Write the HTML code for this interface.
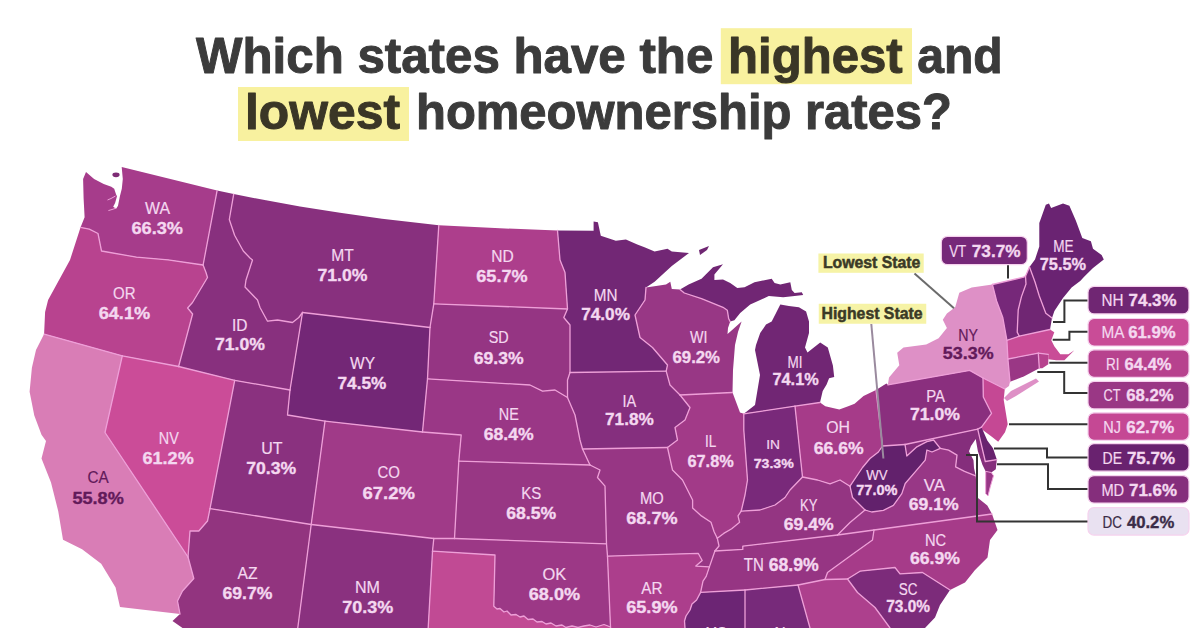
<!DOCTYPE html><html><head><meta charset="utf-8"><style>html,body{margin:0;padding:0;background:#fff;width:1200px;height:628px;overflow:hidden;}svg{display:block;font-family:"Liberation Sans",sans-serif;}</style></head><body>
<svg width="1200" height="628" viewBox="0 0 1200 628">
<rect width="1200" height="628" fill="#ffffff"/>
<rect x="720.8" y="28.2" width="191.2" height="56" fill="#f8f19f"/>
<rect x="238" y="87" width="171" height="54" fill="#f8f19f"/>
<text x="196.00" y="72.50" font-size="50" font-weight="bold" fill="#3b3b3b" textLength="517.30" lengthAdjust="spacingAndGlyphs" stroke="#3b3b3b" stroke-width="1.0" stroke-linejoin="round">Which states have the</text>
<text x="728.00" y="72.50" font-size="50" font-weight="bold" fill="#3a3626" textLength="174.70" lengthAdjust="spacingAndGlyphs" stroke="#3a3626" stroke-width="1.0" stroke-linejoin="round">highest</text>
<text x="917.30" y="72.50" font-size="50" font-weight="bold" fill="#3b3b3b" textLength="85.40" lengthAdjust="spacingAndGlyphs" stroke="#3b3b3b" stroke-width="1.0" stroke-linejoin="round">and</text>
<text x="245.00" y="128.50" font-size="50" font-weight="bold" fill="#3a3626" textLength="155.00" lengthAdjust="spacingAndGlyphs" stroke="#3a3626" stroke-width="1.0" stroke-linejoin="round">lowest</text>
<text x="416.00" y="128.50" font-size="50" font-weight="bold" fill="#3b3b3b" textLength="536.00" lengthAdjust="spacingAndGlyphs" stroke="#3b3b3b" stroke-width="1.0" stroke-linejoin="round">homeownership rates?</text>
<g stroke="none">
<path d="M121.7 167.0 L217.1 190.6 L203.1 265.0 L168.0 259.8 L136.5 257.2 L101.5 251.0 L98.0 233.5 L89.3 229.2 L80.5 227.4 L84.6 217.3 L83.6 198.2 L83.1 179.1 L86.0 172.0 L94.1 179.1 L103.7 183.9 L111.3 186.7 L114.2 188.7 L116.1 194.4 L117.0 196.3 L115.1 203.0 L113.2 206.8 L116.1 208.7 L118.0 205.8 L119.9 196.3 L121.8 188.7 L122.8 179.1 L121.7 167.0Z" fill="#a63c8b"/>
<path d="M80.5 227.4 L89.3 229.2 L98.0 233.5 L101.5 251.0 L136.5 257.2 L168.0 259.8 L203.1 265.0 L206.0 272.5 L207.5 277.5 L192.5 302.5 L187.6 308.0 L192.6 314.0 L178.6 366.5 L122.3 355.8 L44.1 334.1 L45.1 312.0 L48.1 300.0 L70.0 260.0 L80.5 227.4Z" fill="#b8438f"/>
<path d="M44.1 334.1 L122.3 355.8 L105.0 432.5 L188.0 557.0 L193.8 578.5 L182.5 591.0 L177.5 601.0 L180.0 614.0 L120.0 607.0 L115.6 587.6 L101.2 563.7 L82.1 549.3 L63.0 539.8 L58.2 511.1 L51.0 482.4 L41.5 458.6 L46.0 441.0 L41.5 434.7 L34.3 415.6 L29.6 391.7 L31.9 367.8 L36.0 350.0 L44.1 334.1Z" fill="#d97db6"/>
<path d="M122.3 355.8 L178.6 366.5 L234.7 380.3 L210.0 508.6 L207.5 521.0 L198.8 531.0 L190.0 531.0 L188.0 557.0 L105.0 432.5 L122.3 355.8Z" fill="#cb4c98"/>
<path d="M217.1 190.6 L233.7 194.1 L229.3 219.5 L234.6 235.3 L243.3 251.0 L250.0 258.0 L252.5 260.0 L246.0 280.0 L245.0 287.0 L257.5 300.0 L260.0 307.5 L267.5 321.2 L277.5 320.0 L292.5 322.5 L298.8 317.5 L302.5 312.5 L290.0 390.0 L234.7 380.3 L178.6 366.5 L192.6 314.0 L187.6 308.0 L192.5 302.5 L207.5 277.5 L206.0 272.5 L203.1 265.0 L217.1 190.6Z" fill="#88307e"/>
<path d="M233.7 194.1 L266.0 200.3 L300.0 206.5 L340.0 212.8 L382.0 218.8 L438.8 225.3 L433.8 303.8 L430.0 327.5 L302.5 312.5 L298.8 317.5 L292.5 322.5 L277.5 320.0 L267.5 321.2 L260.0 307.5 L257.5 300.0 L245.0 287.0 L246.0 280.0 L252.5 260.0 L250.0 258.0 L243.3 251.0 L234.6 235.3 L229.3 219.5 L233.7 194.1Z" fill="#88307e"/>
<path d="M302.5 312.5 L430.0 327.5 L427.5 378.8 L422.5 432.0 L325.0 421.2 L287.5 415.0 L290.0 390.0 L302.5 312.5Z" fill="#732776"/>
<path d="M234.7 380.3 L290.0 390.0 L287.5 415.0 L325.0 421.2 L311.2 524.5 L210.0 508.6 L234.7 380.3Z" fill="#8a317f"/>
<path d="M325.0 421.2 L422.5 432.0 L461.2 435.0 L458.8 461.2 L454.5 538.5 L433.8 538.5 L311.2 524.5 L325.0 421.2Z" fill="#a03a88"/>
<path d="M210.0 508.6 L311.2 524.5 L296.2 640.0 L190.0 640.0 L182.5 628.0 L172.5 621.0 L180.0 614.0 L177.5 601.0 L182.5 591.0 L193.8 578.5 L188.0 557.0 L190.0 531.0 L198.8 531.0 L207.5 521.0 L210.0 508.6Z" fill="#92347f"/>
<path d="M311.2 524.5 L433.8 538.5 L432.5 551.2 L427.5 640.0 L296.2 640.0 L311.2 524.5Z" fill="#8a317f"/>
<path d="M438.8 225.3 L500.0 228.3 L557.5 230.5 L560.0 260.0 L565.0 272.5 L567.5 309.0 L433.8 303.8 L438.8 225.3Z" fill="#ad3e8c"/>
<path d="M433.8 303.8 L567.5 309.0 L563.8 317.5 L570.0 325.0 L570.0 372.5 L567.5 380.0 L567.5 397.5 L555.0 390.0 L542.5 391.2 L530.0 385.0 L427.5 378.8 L430.0 327.5 L433.8 303.8Z" fill="#953583"/>
<path d="M427.5 378.8 L530.0 385.0 L542.5 391.2 L555.0 390.0 L567.5 397.5 L575.0 415.0 L580.0 440.0 L582.5 449.0 L590.0 465.0 L458.8 461.2 L461.2 435.0 L422.5 432.0 L427.5 378.8Z" fill="#9a3786"/>
<path d="M458.8 461.2 L590.0 465.0 L600.0 470.0 L597.5 477.5 L605.0 486.2 L606.5 543.8 L454.5 538.5 L458.8 461.2Z" fill="#983784"/>
<path d="M454.5 538.5 L606.5 543.8 L607.5 556.2 L610.5 627.0 L604.0 624.5 L596.0 627.0 L590.0 625.0 L584.0 626.0 L578.0 627.5 L572.0 626.0 L566.0 627.5 L562.0 625.0 L556.0 626.0 L551.0 623.0 L546.0 624.0 L542.0 621.5 L537.0 622.0 L533.0 619.0 L528.0 619.5 L524.0 616.0 L520.0 617.0 L516.0 614.5 L511.0 615.0 L507.0 611.0 L504.0 612.0 L500.0 608.5 L497.0 609.0 L493.8 606.2 L495.0 555.0 L432.5 551.2 L433.8 538.5 L454.5 538.5Z" fill="#9c3886"/>
<path d="M432.5 551.2 L495.0 555.0 L493.8 606.2 L497.0 609.0 L500.0 608.5 L504.0 612.0 L507.0 611.0 L511.0 615.0 L516.0 614.5 L520.0 617.0 L524.0 616.0 L528.0 619.5 L533.0 619.0 L537.0 622.0 L542.0 621.5 L546.0 624.0 L551.0 623.0 L556.0 626.0 L562.0 625.0 L566.0 627.5 L572.0 626.0 L578.0 627.5 L584.0 626.0 L590.0 625.0 L596.0 627.0 L604.0 624.5 L610.5 627.0 L611.0 640.0 L427.5 640.0 L432.5 551.2Z" fill="#c14a94"/>
<path d="M557.5 230.5 L593.6 230.8 L593.6 221.5 L597.9 222.2 L600.8 235.8 L615.8 240.8 L625.9 239.4 L637.3 244.4 L644.5 247.3 L654.6 251.6 L667.5 248.7 L671.8 251.6 L689.0 253.0 L671.8 265.9 L654.6 281.7 L646.0 287.5 L645.0 300.0 L635.0 315.0 L640.0 337.5 L652.5 347.5 L667.5 365.0 L666.2 371.2 L570.0 372.5 L570.0 325.0 L563.8 317.5 L567.5 309.0 L565.0 272.5 L560.0 260.0 L557.5 230.5Z" fill="#722775"/>
<path d="M570.0 372.5 L666.2 371.2 L670.0 385.0 L680.0 395.0 L690.0 407.5 L685.0 420.0 L675.0 427.5 L677.5 440.0 L667.5 447.5 L582.5 449.0 L580.0 440.0 L575.0 415.0 L567.5 397.5 L567.5 380.0 L570.0 372.5Z" fill="#852f7e"/>
<path d="M582.5 449.0 L667.5 447.5 L672.5 470.0 L682.5 480.0 L692.6 500.0 L692.6 508.0 L701.4 515.9 L711.0 522.3 L714.1 531.8 L717.3 538.2 L719.0 546.0 L714.9 551.0 L709.4 566.9 L695.8 566.1 L702.2 560.5 L698.2 553.3 L607.5 556.2 L606.5 543.8 L605.0 486.2 L597.5 477.5 L600.0 470.0 L590.0 465.0 L582.5 449.0Z" fill="#973684"/>
<path d="M607.5 556.2 L698.2 553.3 L702.2 560.5 L695.8 566.1 L709.4 566.9 L706.2 576.4 L703.0 581.2 L700.6 592.4 L696.6 600.0 L692.0 604.0 L690.0 610.0 L686.0 616.0 L684.5 621.0 L685.0 628.0 L684.0 640.0 L611.0 640.0 L610.5 627.0 L607.5 556.2Z" fill="#ac3e8c"/>
<path d="M646.0 287.5 L666.0 284.6 L670.3 281.7 L671.8 288.9 L680.0 289.4 L684.3 293.0 L701.5 298.7 L723.0 307.3 L727.3 310.2 L728.7 318.8 L730.2 321.6 L728.0 328.0 L727.5 334.0 L731.0 331.0 L741.6 321.6 L738.0 332.0 L735.0 345.0 L733.0 370.0 L732.5 392.5 L680.0 395.0 L670.0 385.0 L666.2 371.2 L667.5 365.0 L652.5 347.5 L640.0 337.5 L635.0 315.0 L645.0 300.0 L646.0 287.5Z" fill="#983785"/>
<path d="M680.0 395.0 L732.5 392.5 L740.0 412.5 L743.8 413.8 L743.8 430.0 L747.5 480.0 L745.0 495.0 L741.2 511.2 L738.0 515.9 L739.6 522.3 L731.7 528.7 L723.7 533.4 L717.3 538.2 L714.1 531.8 L711.0 522.3 L701.4 515.9 L692.6 508.0 L692.6 500.0 L682.5 480.0 L672.5 470.0 L667.5 447.5 L677.5 440.0 L675.0 427.5 L685.0 420.0 L690.0 407.5 L680.0 395.0Z" fill="#a23a88"/>
<path d="M743.8 413.8 L795.0 406.2 L797.5 430.0 L802.5 477.0 L790.0 490.0 L785.0 497.5 L775.0 505.0 L760.0 510.0 L741.2 511.2 L745.0 495.0 L747.5 480.0 L743.8 430.0 L743.8 413.8Z" fill="#79297a"/>
<path d="M795.0 406.2 L820.0 402.5 L825.3 406.2 L839.3 409.4 L848.2 406.2 L854.6 403.7 L863.5 396.0 L876.0 390.0 L882.5 446.0 L878.4 452.0 L870.0 458.5 L862.5 467.5 L850.0 486.2 L840.0 480.0 L830.0 483.8 L817.5 480.0 L802.5 477.0 L797.5 430.0 L795.0 406.2Z" fill="#a63b89"/>
<path d="M680.0 289.4 L688.6 284.4 L701.5 278.7 L713.0 267.2 L723.0 264.3 L714.4 274.4 L714.4 280.1 L723.0 279.4 L730.2 283.0 L737.3 288.0 L744.5 287.3 L754.5 282.2 L771.7 278.7 L774.6 283.0 L780.3 284.4 L790.3 282.2 L791.8 290.1 L794.6 293.0 L801.8 292.3 L803.2 295.1 L794.6 295.9 L783.2 297.3 L768.8 295.9 L760.2 300.1 L750.2 304.4 L740.2 313.0 L734.4 320.2 L730.2 321.6 L728.7 318.8 L727.3 310.2 L723.0 307.3 L701.5 298.7 L684.3 293.0 L680.0 289.4Z" fill="#712674"/>
<path d="M820.0 402.5 L822.7 391.0 L826.6 384.6 L829.1 378.2 L834.2 377.0 L832.9 365.5 L827.8 347.6 L820.2 342.5 L807.5 352.5 L805.0 347.5 L809.0 333.0 L809.0 321.6 L806.1 311.6 L798.9 307.3 L788.9 305.9 L780.3 304.4 L775.0 315.0 L771.7 321.6 L766.0 324.5 L760.2 333.1 L756.0 345.0 L755.0 350.0 L760.0 375.0 L755.0 405.0 L743.8 413.8 L795.0 406.2 L820.0 402.5Z" fill="#712674"/>
<path d="M741.2 511.2 L760.0 510.0 L775.0 505.0 L785.0 497.5 L790.0 490.0 L802.5 477.0 L817.5 480.0 L830.0 483.8 L840.0 480.0 L850.0 486.2 L852.5 497.5 L865.0 510.0 L850.0 522.5 L837.5 535.0 L742.8 546.2 L742.8 549.4 L714.9 551.0 L719.0 546.0 L717.3 538.2 L723.7 533.4 L731.7 528.7 L739.6 522.3 L738.0 515.9 L741.2 511.2Z" fill="#943582"/>
<path d="M714.9 551.0 L742.8 549.4 L742.8 546.2 L837.5 535.0 L874.0 530.0 L872.5 540.0 L855.0 552.5 L827.5 572.5 L825.0 579.5 L798.0 585.0 L745.0 590.0 L700.6 592.4 L703.0 581.2 L706.2 576.4 L709.4 566.9 L714.9 551.0Z" fill="#963583"/>
<path d="M700.6 592.4 L745.0 590.0 L745.0 640.0 L684.0 640.0 L685.0 628.0 L684.5 621.0 L686.0 616.0 L690.0 610.0 L692.0 604.0 L696.6 600.0 L700.6 592.4Z" fill="#6c2574"/>
<path d="M745.0 590.0 L798.0 585.0 L810.0 628.0 L813.0 640.0 L745.0 640.0 L745.0 590.0Z" fill="#772a7a"/>
<path d="M798.0 585.0 L825.0 579.5 L847.5 579.0 L857.5 592.5 L875.0 607.5 L890.0 628.0 L900.0 640.0 L813.0 640.0 L810.0 628.0 L798.0 585.0Z" fill="#ad408d"/>
<path d="M847.5 579.0 L860.0 571.2 L895.0 567.5 L900.0 573.8 L922.5 572.5 L950.0 590.0 L940.0 605.0 L935.0 617.5 L925.0 628.0 L915.0 640.0 L900.0 640.0 L890.0 628.0 L875.0 607.5 L857.5 592.5 L847.5 579.0Z" fill="#7c2b7a"/>
<path d="M992.0 514.0 L874.0 530.0 L872.5 540.0 L855.0 552.5 L827.5 572.5 L825.0 579.5 L847.5 579.0 L860.0 571.2 L895.0 567.5 L900.0 573.8 L922.5 572.5 L950.0 590.0 L965.0 582.5 L975.0 570.0 L987.5 557.5 L990.0 540.0 L997.5 530.0 L992.0 514.0Z" fill="#a63b89"/>
<path d="M865.0 510.0 L871.7 512.0 L883.4 510.3 L893.4 505.3 L901.8 493.6 L905.2 483.5 L915.2 471.8 L925.2 460.1 L926.9 450.0 L932.0 452.0 L940.3 448.4 L948.6 450.1 L957.0 455.1 L955.6 466.8 L964.5 471.4 L975.7 475.8 L976.8 489.2 L978.0 498.0 L987.3 505.4 L992.0 514.0 L874.0 530.0 L837.5 535.0 L850.0 522.5 L865.0 510.0Z" fill="#983786"/>
<path d="M882.5 446.0 L905.0 444.5 L906.8 456.0 L916.9 446.8 L926.9 441.7 L933.6 440.0 L940.3 448.4 L932.0 452.0 L926.9 450.0 L925.2 460.1 L915.2 471.8 L905.2 483.5 L901.8 493.6 L893.4 505.3 L883.4 510.3 L871.7 512.0 L865.0 510.0 L852.5 497.5 L850.0 486.2 L862.5 467.5 L870.0 458.5 L878.4 452.0 L882.5 446.0Z" fill="#62216c"/>
<path d="M876.0 390.0 L886.4 383.5 L887.9 384.8 L969.7 370.4 L983.0 378.0 L983.3 397.0 L991.5 413.3 L981.5 427.2 L977.7 429.1 L905.0 444.5 L882.5 446.0 L876.0 390.0Z" fill="#8a2f7e"/>
<path d="M887.9 384.8 L889.0 377.6 L899.3 365.2 L897.2 352.8 L903.5 347.6 L926.2 344.5 L938.6 338.3 L946.9 327.9 L942.8 319.7 L946.9 313.5 L955.2 307.2 L959.3 292.8 L971.7 287.6 L992.4 284.5 L996.6 301.0 L1002.8 317.6 L1006.9 340.3 L1007.9 359.0 L1010.0 381.7 L1009.0 385.9 L1004.8 389.0 L983.0 378.0 L969.7 370.4 L887.9 384.8Z" fill="#de90c6"/>
<path d="M992.4 284.5 L1023.5 277.2 L1025.5 276.2 L1026.0 284.0 L1021.4 296.9 L1018.2 310.0 L1017.2 332.1 L1019.3 336.2 L1006.9 340.3 L1002.8 317.6 L996.6 301.0 L992.4 284.5Z" fill="#762879"/>
<path d="M1025.5 276.2 L1029.5 267.0 L1035.0 282.0 L1039.3 296.0 L1045.8 313.2 L1052.0 318.0 L1050.0 329.5 L1019.3 336.2 L1017.2 332.1 L1018.2 310.0 L1021.4 296.9 L1026.0 284.0 L1025.5 276.2Z" fill="#702673"/>
<path d="M1029.5 267.0 L1035.0 259.4 L1039.3 246.6 L1039.3 222.9 L1045.8 204.7 L1049.0 203.6 L1051.1 207.9 L1063.0 203.6 L1069.4 205.7 L1075.9 220.8 L1082.3 238.0 L1090.9 241.2 L1093.0 248.7 L1101.6 255.1 L1103.8 259.4 L1093.0 268.0 L1084.4 276.6 L1080.2 280.9 L1071.6 287.4 L1063.0 298.1 L1054.4 311.0 L1052.0 318.0 L1045.8 313.2 L1039.3 296.0 L1035.0 282.0 L1029.5 267.0Z" fill="#6a2372"/>
<path d="M1006.9 340.3 L1019.3 336.2 L1050.0 329.5 L1054.3 332.2 L1051.3 340.2 L1054.3 346.2 L1060.3 354.3 L1068.4 354.3 L1074.4 350.2 L1064.4 360.3 L1056.3 360.3 L1048.3 359.3 L1048.3 354.3 L1038.3 353.2 L1007.9 359.0 L1006.9 340.3Z" fill="#c94c97"/>
<path d="M1038.3 353.2 L1048.3 354.3 L1048.3 364.3 L1042.3 368.3 L1039.3 368.3 L1038.3 353.2Z" fill="#b7428e"/>
<path d="M1007.9 359.0 L1038.3 353.2 L1039.3 368.3 L1024.2 376.3 L1010.0 381.7 L1007.9 359.0Z" fill="#9a3785"/>
<path d="M983.0 378.0 L1004.8 389.0 L1003.7 399.8 L1007.7 424.2 L1005.0 432.3 L998.2 441.8 L991.5 436.4 L982.0 429.6 L981.5 427.2 L991.5 413.3 L983.3 397.0 L983.0 378.0Z" fill="#c54894"/>
<path d="M977.7 429.1 L981.5 427.2 L987.3 440.5 L993.0 448.2 L996.8 459.6 L985.3 461.5 L977.7 429.1Z" fill="#69226f"/>
<path d="M905.0 444.5 L977.7 429.1 L985.3 461.5 L996.8 459.6 L995.8 469.2 L991.3 472.5 L985.7 471.4 L982.4 464.7 L977.9 451.3 L975.7 439.0 L971.0 446.0 L969.0 451.3 L973.5 460.2 L974.0 468.0 L975.7 475.8 L964.5 471.4 L955.6 466.8 L957.0 455.1 L948.6 450.1 L940.3 448.4 L933.6 440.0 L926.9 441.7 L916.9 446.8 L906.8 456.0 L905.0 444.5Z" fill="#852e7c"/>
<path d="M1004 398 L1011 391 L1036 378.5 L1039 381.5 L1016 396 L1007 401Z" fill="#de90c6"/>
<path d="M985.7 471.4 L991.3 472.5 L993.5 475.8 L990.2 487 L988 495.9 L985.7 493.7 L985.7 480.3Z" fill="#983786" stroke="#ee9fd8" stroke-width="1"/>
<path d="M699 250 L709 246 L707 250 L700 255Z" fill="#6f2672"/>
<ellipse cx="116" cy="174.8" rx="3.6" ry="2.4" fill="#7e2c75"/>
<polyline points="107.5,200 111,198.5 115.5,196" fill="none" stroke="#ee9fd8" stroke-width="1"/>
<polyline points="108.4,210.6 112,209.5 116,208.2" fill="none" stroke="#ee9fd8" stroke-width="1"/>
</g>
<g fill="none" stroke="#ee9fd8" stroke-width="1.3" stroke-linejoin="round" stroke-linecap="round">
<polyline points="80.5,227.4 89.3,229.2 98.0,233.5 101.5,251.0 136.5,257.2 168.0,259.8 203.1,265.0"/>
<polyline points="217.1,190.6 203.1,265.0"/>
<polyline points="203.1,265.0 206.0,272.5 207.5,277.5 192.5,302.5 187.6,308.0 192.6,314.0 178.6,366.5"/>
<polyline points="44.1,334.1 122.3,355.8"/>
<polyline points="122.3,355.8 178.6,366.5"/>
<polyline points="178.6,366.5 234.7,380.3"/>
<polyline points="234.7,380.3 290.0,390.0"/>
<polyline points="302.5,312.5 290.0,390.0"/>
<polyline points="233.7,194.1 229.3,219.5 234.6,235.3 243.3,251.0 250.0,258.0 252.5,260.0 246.0,280.0 245.0,287.0 257.5,300.0 260.0,307.5 267.5,321.2 277.5,320.0 292.5,322.5 298.8,317.5 302.5,312.5"/>
<polyline points="302.5,312.5 430.0,327.5"/>
<polyline points="438.8,225.3 433.8,303.8"/>
<polyline points="433.8,303.8 430.0,327.5"/>
<polyline points="433.8,303.8 567.5,309.0"/>
<polyline points="557.5,230.5 560.0,260.0 565.0,272.5 567.5,309.0"/>
<polyline points="430.0,327.5 427.5,378.8"/>
<polyline points="427.5,378.8 422.5,432.0"/>
<polyline points="422.5,432.0 325.0,421.2"/>
<polyline points="325.0,421.2 287.5,415.0 290.0,390.0"/>
<polyline points="234.7,380.3 210.0,508.6"/>
<polyline points="122.3,355.8 105.0,432.5 188.0,557.0"/>
<polyline points="188.0,557.0 193.8,578.5 182.5,591.0 177.5,601.0 180.0,614.0"/>
<polyline points="210.0,508.6 207.5,521.0 198.8,531.0 190.0,531.0 188.0,557.0"/>
<polyline points="210.0,508.6 311.2,524.5"/>
<polyline points="325.0,421.2 311.2,524.5"/>
<polyline points="311.2,524.5 296.2,640.0"/>
<polyline points="311.2,524.5 433.8,538.5"/>
<polyline points="422.5,432.0 461.2,435.0 458.8,461.2"/>
<polyline points="458.8,461.2 454.5,538.5"/>
<polyline points="433.8,538.5 454.5,538.5"/>
<polyline points="433.8,538.5 432.5,551.2"/>
<polyline points="432.5,551.2 427.5,640.0"/>
<polyline points="432.5,551.2 495.0,555.0 493.8,606.2 497.0,609.0 500.0,608.5 504.0,612.0 507.0,611.0 511.0,615.0 516.0,614.5 520.0,617.0 524.0,616.0 528.0,619.5 533.0,619.0 537.0,622.0 542.0,621.5 546.0,624.0 551.0,623.0 556.0,626.0 562.0,625.0 566.0,627.5 572.0,626.0 578.0,627.5 584.0,626.0 590.0,625.0 596.0,627.0 604.0,624.5 610.5,627.0"/>
<polyline points="610.5,627.0 611.0,640.0"/>
<polyline points="567.5,309.0 563.8,317.5 570.0,325.0 570.0,372.5"/>
<polyline points="427.5,378.8 530.0,385.0 542.5,391.2 555.0,390.0 567.5,397.5"/>
<polyline points="570.0,372.5 567.5,380.0 567.5,397.5"/>
<polyline points="567.5,397.5 575.0,415.0 580.0,440.0 582.5,449.0"/>
<polyline points="458.8,461.2 590.0,465.0"/>
<polyline points="582.5,449.0 590.0,465.0"/>
<polyline points="590.0,465.0 600.0,470.0 597.5,477.5 605.0,486.2 606.5,543.8"/>
<polyline points="454.5,538.5 606.5,543.8"/>
<polyline points="606.5,543.8 607.5,556.2"/>
<polyline points="607.5,556.2 610.5,627.0"/>
<polyline points="607.5,556.2 698.2,553.3 702.2,560.5 695.8,566.1 709.4,566.9"/>
<polyline points="582.5,449.0 667.5,447.5"/>
<polyline points="570.0,372.5 666.2,371.2"/>
<polyline points="646.0,287.5 645.0,300.0 635.0,315.0 640.0,337.5 652.5,347.5 667.5,365.0 666.2,371.2"/>
<polyline points="666.2,371.2 670.0,385.0 680.0,395.0"/>
<polyline points="680.0,395.0 732.5,392.5"/>
<polyline points="680.0,289.4 684.3,293.0 701.5,298.7 723.0,307.3 727.3,310.2 728.7,318.8 730.2,321.6"/>
<polyline points="680.0,395.0 690.0,407.5 685.0,420.0 675.0,427.5 677.5,440.0 667.5,447.5"/>
<polyline points="667.5,447.5 672.5,470.0 682.5,480.0 692.6,500.0 692.6,508.0 701.4,515.9 711.0,522.3 714.1,531.8 717.3,538.2"/>
<polyline points="717.3,538.2 723.7,533.4 731.7,528.7 739.6,522.3 738.0,515.9 741.2,511.2"/>
<polyline points="717.3,538.2 719.0,546.0 714.9,551.0"/>
<polyline points="714.9,551.0 709.4,566.9"/>
<polyline points="714.9,551.0 742.8,549.4 742.8,546.2 837.5,535.0"/>
<polyline points="743.8,413.8 743.8,430.0 747.5,480.0 745.0,495.0 741.2,511.2"/>
<polyline points="743.8,413.8 795.0,406.2"/>
<polyline points="795.0,406.2 797.5,430.0 802.5,477.0"/>
<polyline points="741.2,511.2 760.0,510.0 775.0,505.0 785.0,497.5 790.0,490.0 802.5,477.0"/>
<polyline points="802.5,477.0 817.5,480.0 830.0,483.8 840.0,480.0 850.0,486.2"/>
<polyline points="795.0,406.2 820.0,402.5"/>
<polyline points="876.0,390.0 882.5,446.0"/>
<polyline points="882.5,446.0 878.4,452.0 870.0,458.5 862.5,467.5 850.0,486.2"/>
<polyline points="850.0,486.2 852.5,497.5 865.0,510.0"/>
<polyline points="882.5,446.0 905.0,444.5"/>
<polyline points="905.0,444.5 906.8,456.0 916.9,446.8 926.9,441.7 933.6,440.0 940.3,448.4"/>
<polyline points="905.0,444.5 977.7,429.1"/>
<polyline points="940.3,448.4 932.0,452.0 926.9,450.0 925.2,460.1 915.2,471.8 905.2,483.5 901.8,493.6 893.4,505.3 883.4,510.3 871.7,512.0 865.0,510.0"/>
<polyline points="940.3,448.4 948.6,450.1 957.0,455.1 955.6,466.8 964.5,471.4 975.7,475.8"/>
<polyline points="865.0,510.0 850.0,522.5 837.5,535.0"/>
<polyline points="837.5,535.0 874.0,530.0"/>
<polyline points="874.0,530.0 992.0,514.0"/>
<polyline points="874.0,530.0 872.5,540.0 855.0,552.5 827.5,572.5 825.0,579.5"/>
<polyline points="825.0,579.5 847.5,579.0"/>
<polyline points="847.5,579.0 860.0,571.2 895.0,567.5 900.0,573.8 922.5,572.5 950.0,590.0"/>
<polyline points="847.5,579.0 857.5,592.5 875.0,607.5 890.0,628.0 900.0,640.0"/>
<polyline points="798.0,585.0 825.0,579.5"/>
<polyline points="745.0,590.0 798.0,585.0"/>
<polyline points="798.0,585.0 810.0,628.0 813.0,640.0"/>
<polyline points="700.6,592.4 745.0,590.0"/>
<polyline points="745.0,590.0 745.0,640.0"/>
<polyline points="709.4,566.9 706.2,576.4 703.0,581.2 700.6,592.4"/>
<polyline points="700.6,592.4 696.6,600.0 692.0,604.0 690.0,610.0 686.0,616.0 684.5,621.0 685.0,628.0 684.0,640.0"/>
<polyline points="887.9,384.8 969.7,370.4 983.0,378.0"/>
<polyline points="992.4,284.5 996.6,301.0 1002.8,317.6 1006.9,340.3"/>
<polyline points="1006.9,340.3 1007.9,359.0"/>
<polyline points="1007.9,359.0 1010.0,381.7"/>
<polyline points="1004.8,389.0 983.0,378.0"/>
<polyline points="992.4,284.5 1023.5,277.2 1025.5,276.2"/>
<polyline points="1025.5,276.2 1026.0,284.0 1021.4,296.9 1018.2,310.0 1017.2,332.1 1019.3,336.2"/>
<polyline points="1019.3,336.2 1006.9,340.3"/>
<polyline points="1025.5,276.2 1029.5,267.0"/>
<polyline points="1029.5,267.0 1035.0,282.0 1039.3,296.0 1045.8,313.2 1052.0,318.0"/>
<polyline points="1050.0,329.5 1019.3,336.2"/>
<polyline points="1048.3,354.3 1038.3,353.2"/>
<polyline points="1038.3,353.2 1007.9,359.0"/>
<polyline points="1038.3,353.2 1039.3,368.3"/>
<polyline points="983.0,378.0 983.3,397.0 991.5,413.3 981.5,427.2"/>
<polyline points="981.5,427.2 977.7,429.1"/>
<polyline points="977.7,429.1 985.3,461.5 996.8,459.6"/>
</g>
<g>
<text x="157.50" y="214.20" font-size="17.00" font-weight="normal" fill="#f4d8f0" text-anchor="middle" stroke="#f4d8f0" stroke-width="0.20" textLength="25.00" lengthAdjust="spacingAndGlyphs">WA</text>
<text x="157.25" y="233.50" font-size="17.00" font-weight="bold" fill="#f4d8f0" text-anchor="middle" stroke="#f4d8f0" stroke-width="0.35" textLength="51.50" lengthAdjust="spacingAndGlyphs">66.3%</text>
<text x="124.25" y="299.20" font-size="17.00" font-weight="normal" fill="#f4d8f0" text-anchor="middle" stroke="#f4d8f0" stroke-width="0.20" textLength="22.50" lengthAdjust="spacingAndGlyphs">OR</text>
<text x="124.40" y="318.50" font-size="17.00" font-weight="bold" fill="#f4d8f0" text-anchor="middle" stroke="#f4d8f0" stroke-width="0.35" textLength="51.50" lengthAdjust="spacingAndGlyphs">64.1%</text>
<text x="342.50" y="260.70" font-size="17.00" font-weight="normal" fill="#f4d8f0" text-anchor="middle" stroke="#f4d8f0" stroke-width="0.20" textLength="22.50" lengthAdjust="spacingAndGlyphs">MT</text>
<text x="342.50" y="280.50" font-size="17.00" font-weight="bold" fill="#f4d8f0" text-anchor="middle" stroke="#f4d8f0" stroke-width="0.35" textLength="50.00" lengthAdjust="spacingAndGlyphs">71.0%</text>
<text x="502.50" y="261.70" font-size="17.00" font-weight="normal" fill="#f4d8f0" text-anchor="middle" stroke="#f4d8f0" stroke-width="0.20" textLength="22.50" lengthAdjust="spacingAndGlyphs">ND</text>
<text x="501.90" y="281.50" font-size="17.00" font-weight="bold" fill="#f4d8f0" text-anchor="middle" stroke="#f4d8f0" stroke-width="0.35" textLength="51.20" lengthAdjust="spacingAndGlyphs">65.7%</text>
<text x="605.60" y="300.70" font-size="17.00" font-weight="normal" fill="#f4d8f0" text-anchor="middle" stroke="#f4d8f0" stroke-width="0.20" textLength="23.75" lengthAdjust="spacingAndGlyphs">MN</text>
<text x="605.60" y="320.00" font-size="17.00" font-weight="bold" fill="#f4d8f0" text-anchor="middle" stroke="#f4d8f0" stroke-width="0.35" textLength="48.75" lengthAdjust="spacingAndGlyphs">74.0%</text>
<text x="239.75" y="330.70" font-size="17.00" font-weight="normal" fill="#f4d8f0" text-anchor="middle" stroke="#f4d8f0" stroke-width="0.20" textLength="15.50" lengthAdjust="spacingAndGlyphs">ID</text>
<text x="240.00" y="350.00" font-size="17.00" font-weight="bold" fill="#f4d8f0" text-anchor="middle" stroke="#f4d8f0" stroke-width="0.35" textLength="50.00" lengthAdjust="spacingAndGlyphs">71.0%</text>
<text x="362.50" y="369.20" font-size="17.00" font-weight="normal" fill="#f4d8f0" text-anchor="middle" stroke="#f4d8f0" stroke-width="0.20" textLength="25.00" lengthAdjust="spacingAndGlyphs">WY</text>
<text x="361.90" y="388.75" font-size="17.00" font-weight="bold" fill="#f4d8f0" text-anchor="middle" stroke="#f4d8f0" stroke-width="0.35" textLength="48.75" lengthAdjust="spacingAndGlyphs">74.5%</text>
<text x="498.75" y="342.95" font-size="17.00" font-weight="normal" fill="#f4d8f0" text-anchor="middle" stroke="#f4d8f0" stroke-width="0.20" textLength="20.00" lengthAdjust="spacingAndGlyphs">SD</text>
<text x="498.75" y="363.50" font-size="17.00" font-weight="bold" fill="#f4d8f0" text-anchor="middle" stroke="#f4d8f0" stroke-width="0.35" textLength="50.00" lengthAdjust="spacingAndGlyphs">69.3%</text>
<text x="508.75" y="419.70" font-size="17.00" font-weight="normal" fill="#f4d8f0" text-anchor="middle" stroke="#f4d8f0" stroke-width="0.20" textLength="20.00" lengthAdjust="spacingAndGlyphs">NE</text>
<text x="508.75" y="440.00" font-size="17.00" font-weight="bold" fill="#f4d8f0" text-anchor="middle" stroke="#f4d8f0" stroke-width="0.35" textLength="50.00" lengthAdjust="spacingAndGlyphs">68.4%</text>
<text x="629.40" y="406.70" font-size="17.00" font-weight="normal" fill="#f4d8f0" text-anchor="middle" stroke="#f4d8f0" stroke-width="0.20" textLength="13.75" lengthAdjust="spacingAndGlyphs">IA</text>
<text x="629.40" y="425.00" font-size="17.00" font-weight="bold" fill="#f4d8f0" text-anchor="middle" stroke="#f4d8f0" stroke-width="0.35" textLength="48.75" lengthAdjust="spacingAndGlyphs">71.8%</text>
<text x="698.75" y="342.95" font-size="17.00" font-weight="normal" fill="#f4d8f0" text-anchor="middle" stroke="#f4d8f0" stroke-width="0.20" textLength="17.50" lengthAdjust="spacingAndGlyphs">WI</text>
<text x="696.25" y="362.50" font-size="17.00" font-weight="bold" fill="#f4d8f0" text-anchor="middle" stroke="#f4d8f0" stroke-width="0.35" textLength="47.50" lengthAdjust="spacingAndGlyphs">69.2%</text>
<text x="795.00" y="367.70" font-size="17.00" font-weight="normal" fill="#f4d8f0" text-anchor="middle" stroke="#f4d8f0" stroke-width="0.20" textLength="15.00" lengthAdjust="spacingAndGlyphs">MI</text>
<text x="795.60" y="385.00" font-size="17.00" font-weight="bold" fill="#f4d8f0" text-anchor="middle" stroke="#f4d8f0" stroke-width="0.35" textLength="46.25" lengthAdjust="spacingAndGlyphs">74.1%</text>
<text x="935.60" y="401.70" font-size="17.00" font-weight="normal" fill="#f4d8f0" text-anchor="middle" stroke="#f4d8f0" stroke-width="0.20" textLength="18.75" lengthAdjust="spacingAndGlyphs">PA</text>
<text x="935.00" y="420.00" font-size="17.00" font-weight="bold" fill="#f4d8f0" text-anchor="middle" stroke="#f4d8f0" stroke-width="0.35" textLength="50.00" lengthAdjust="spacingAndGlyphs">71.0%</text>
<text x="838.10" y="432.95" font-size="17.00" font-weight="normal" fill="#f4d8f0" text-anchor="middle" stroke="#f4d8f0" stroke-width="0.20" textLength="23.75" lengthAdjust="spacingAndGlyphs">OH</text>
<text x="838.75" y="453.75" font-size="17.00" font-weight="bold" fill="#f4d8f0" text-anchor="middle" stroke="#f4d8f0" stroke-width="0.35" textLength="50.00" lengthAdjust="spacingAndGlyphs">66.6%</text>
<text x="710.60" y="446.70" font-size="17.00" font-weight="normal" fill="#f4d8f0" text-anchor="middle" stroke="#f4d8f0" stroke-width="0.20" textLength="11.25" lengthAdjust="spacingAndGlyphs">IL</text>
<text x="710.60" y="466.50" font-size="17.00" font-weight="bold" fill="#f4d8f0" text-anchor="middle" stroke="#f4d8f0" stroke-width="0.35" textLength="46.25" lengthAdjust="spacingAndGlyphs">67.8%</text>
<text x="773.10" y="449.36" font-size="13.60" font-weight="normal" fill="#f4d8f0" text-anchor="middle" stroke="#f4d8f0" stroke-width="0.20" textLength="13.75" lengthAdjust="spacingAndGlyphs">IN</text>
<text x="773.75" y="467.66" font-size="13.60" font-weight="bold" fill="#f4d8f0" text-anchor="middle" stroke="#f4d8f0" stroke-width="0.35" textLength="40.00" lengthAdjust="spacingAndGlyphs">73.3%</text>
<text x="876.90" y="479.94" font-size="14.45" font-weight="normal" fill="#f4d8f0" text-anchor="middle" stroke="#f4d8f0" stroke-width="0.20" textLength="21.25" lengthAdjust="spacingAndGlyphs">WV</text>
<text x="876.90" y="494.74" font-size="14.45" font-weight="bold" fill="#f4d8f0" text-anchor="middle" stroke="#f4d8f0" stroke-width="0.35" textLength="41.25" lengthAdjust="spacingAndGlyphs">77.0%</text>
<text x="934.40" y="490.70" font-size="17.00" font-weight="normal" fill="#f4d8f0" text-anchor="middle" stroke="#f4d8f0" stroke-width="0.20" textLength="21.25" lengthAdjust="spacingAndGlyphs">VA</text>
<text x="933.75" y="510.00" font-size="17.00" font-weight="bold" fill="#f4d8f0" text-anchor="middle" stroke="#f4d8f0" stroke-width="0.35" textLength="50.00" lengthAdjust="spacingAndGlyphs">69.1%</text>
<text x="808.75" y="510.70" font-size="17.00" font-weight="normal" fill="#f4d8f0" text-anchor="middle" stroke="#f4d8f0" stroke-width="0.20" textLength="17.50" lengthAdjust="spacingAndGlyphs">KY</text>
<text x="808.75" y="530.00" font-size="17.00" font-weight="bold" fill="#f4d8f0" text-anchor="middle" stroke="#f4d8f0" stroke-width="0.35" textLength="50.00" lengthAdjust="spacingAndGlyphs">69.4%</text>
<text x="935.60" y="545.70" font-size="17.00" font-weight="normal" fill="#f4d8f0" text-anchor="middle" stroke="#f4d8f0" stroke-width="0.20" textLength="21.25" lengthAdjust="spacingAndGlyphs">NC</text>
<text x="935.00" y="564.00" font-size="17.00" font-weight="bold" fill="#f4d8f0" text-anchor="middle" stroke="#f4d8f0" stroke-width="0.35" textLength="50.00" lengthAdjust="spacingAndGlyphs">66.9%</text>
<text x="908.10" y="595.11" font-size="16.15" font-weight="normal" fill="#f4d8f0" text-anchor="middle" stroke="#f4d8f0" stroke-width="0.20" textLength="18.75" lengthAdjust="spacingAndGlyphs">SC</text>
<text x="908.10" y="611.91" font-size="16.15" font-weight="bold" fill="#f4d8f0" text-anchor="middle" stroke="#f4d8f0" stroke-width="0.35" textLength="43.75" lengthAdjust="spacingAndGlyphs">73.0%</text>
<text x="168.75" y="444.20" font-size="17.00" font-weight="normal" fill="#f4d8f0" text-anchor="middle" stroke="#f4d8f0" stroke-width="0.20" textLength="20.00" lengthAdjust="spacingAndGlyphs">NV</text>
<text x="168.10" y="463.75" font-size="17.00" font-weight="bold" fill="#f4d8f0" text-anchor="middle" stroke="#f4d8f0" stroke-width="0.35" textLength="51.25" lengthAdjust="spacingAndGlyphs">61.2%</text>
<text x="98.10" y="482.95" font-size="17.00" font-weight="normal" fill="#621a5a" text-anchor="middle" stroke="#621a5a" stroke-width="0.20" textLength="21.25" lengthAdjust="spacingAndGlyphs">CA</text>
<text x="98.10" y="503.75" font-size="17.00" font-weight="bold" fill="#621a5a" text-anchor="middle" stroke="#621a5a" stroke-width="0.35" textLength="51.25" lengthAdjust="spacingAndGlyphs">55.8%</text>
<text x="271.90" y="454.20" font-size="17.00" font-weight="normal" fill="#f4d8f0" text-anchor="middle" stroke="#f4d8f0" stroke-width="0.20" textLength="21.25" lengthAdjust="spacingAndGlyphs">UT</text>
<text x="271.25" y="473.75" font-size="17.00" font-weight="bold" fill="#f4d8f0" text-anchor="middle" stroke="#f4d8f0" stroke-width="0.35" textLength="50.00" lengthAdjust="spacingAndGlyphs">70.3%</text>
<text x="247.50" y="579.20" font-size="17.00" font-weight="normal" fill="#f4d8f0" text-anchor="middle" stroke="#f4d8f0" stroke-width="0.20" textLength="20.00" lengthAdjust="spacingAndGlyphs">AZ</text>
<text x="247.50" y="598.50" font-size="17.00" font-weight="bold" fill="#f4d8f0" text-anchor="middle" stroke="#f4d8f0" stroke-width="0.35" textLength="50.00" lengthAdjust="spacingAndGlyphs">69.7%</text>
<text x="367.50" y="592.95" font-size="17.00" font-weight="normal" fill="#f4d8f0" text-anchor="middle" stroke="#f4d8f0" stroke-width="0.20" textLength="25.00" lengthAdjust="spacingAndGlyphs">NM</text>
<text x="367.75" y="612.50" font-size="17.00" font-weight="bold" fill="#f4d8f0" text-anchor="middle" stroke="#f4d8f0" stroke-width="0.35" textLength="51.00" lengthAdjust="spacingAndGlyphs">70.3%</text>
<text x="388.75" y="478.20" font-size="17.00" font-weight="normal" fill="#f4d8f0" text-anchor="middle" stroke="#f4d8f0" stroke-width="0.20" textLength="22.50" lengthAdjust="spacingAndGlyphs">CO</text>
<text x="388.75" y="499.00" font-size="17.00" font-weight="bold" fill="#f4d8f0" text-anchor="middle" stroke="#f4d8f0" stroke-width="0.35" textLength="52.50" lengthAdjust="spacingAndGlyphs">67.2%</text>
<text x="531.25" y="499.20" font-size="17.00" font-weight="normal" fill="#f4d8f0" text-anchor="middle" stroke="#f4d8f0" stroke-width="0.20" textLength="20.00" lengthAdjust="spacingAndGlyphs">KS</text>
<text x="531.25" y="518.75" font-size="17.00" font-weight="bold" fill="#f4d8f0" text-anchor="middle" stroke="#f4d8f0" stroke-width="0.35" textLength="50.00" lengthAdjust="spacingAndGlyphs">68.5%</text>
<text x="651.90" y="504.20" font-size="17.00" font-weight="normal" fill="#f4d8f0" text-anchor="middle" stroke="#f4d8f0" stroke-width="0.20" textLength="23.75" lengthAdjust="spacingAndGlyphs">MO</text>
<text x="651.90" y="523.75" font-size="17.00" font-weight="bold" fill="#f4d8f0" text-anchor="middle" stroke="#f4d8f0" stroke-width="0.35" textLength="51.25" lengthAdjust="spacingAndGlyphs">68.7%</text>
<text x="554.40" y="580.45" font-size="17.00" font-weight="normal" fill="#f4d8f0" text-anchor="middle" stroke="#f4d8f0" stroke-width="0.20" textLength="23.75" lengthAdjust="spacingAndGlyphs">OK</text>
<text x="554.40" y="600.00" font-size="17.00" font-weight="bold" fill="#f4d8f0" text-anchor="middle" stroke="#f4d8f0" stroke-width="0.35" textLength="51.25" lengthAdjust="spacingAndGlyphs">68.0%</text>
<text x="651.90" y="594.20" font-size="17.00" font-weight="normal" fill="#f4d8f0" text-anchor="middle" stroke="#f4d8f0" stroke-width="0.20" textLength="21.25" lengthAdjust="spacingAndGlyphs">AR</text>
<text x="651.90" y="612.50" font-size="17.00" font-weight="bold" fill="#f4d8f0" text-anchor="middle" stroke="#f4d8f0" stroke-width="0.35" textLength="51.25" lengthAdjust="spacingAndGlyphs">65.9%</text>
<text x="968.20" y="340.70" font-size="17.00" font-weight="normal" fill="#621a5a" text-anchor="middle" stroke="#621a5a" stroke-width="0.20" textLength="19.70" lengthAdjust="spacingAndGlyphs">NY</text>
<text x="968.20" y="359.10" font-size="17.00" font-weight="bold" fill="#621a5a" text-anchor="middle" stroke="#621a5a" stroke-width="0.35" textLength="50.70" lengthAdjust="spacingAndGlyphs">53.3%</text>
<text x="1063.40" y="251.70" font-size="17.00" font-weight="normal" fill="#f4d8f0" text-anchor="middle" stroke="#f4d8f0" stroke-width="0.20" textLength="20.40" lengthAdjust="spacingAndGlyphs">ME</text>
<text x="1062.90" y="269.50" font-size="17.00" font-weight="bold" fill="#f4d8f0" text-anchor="middle" stroke="#f4d8f0" stroke-width="0.35" textLength="46.30" lengthAdjust="spacingAndGlyphs">75.5%</text>
<text x="753.75" y="571.04" font-size="17.50" font-weight="normal" fill="#f4d8f0" text-anchor="middle" stroke="#f4d8f0" stroke-width="0.20" textLength="20.00" lengthAdjust="spacingAndGlyphs">TN</text>
<text x="716.00" y="638.70" font-size="17.00" font-weight="normal" fill="#f4d8f0" text-anchor="middle" stroke="#f4d8f0" stroke-width="0.20" textLength="21.00" lengthAdjust="spacingAndGlyphs">MS</text>
<text x="781.00" y="638.70" font-size="17.00" font-weight="normal" fill="#f4d8f0" text-anchor="middle" stroke="#f4d8f0" stroke-width="0.20" textLength="19.00" lengthAdjust="spacingAndGlyphs">AL</text>
<text x="793.75" y="571.04" font-size="17.50" font-weight="bold" fill="#f4d8f0" text-anchor="middle" stroke="#f4d8f0" stroke-width="0.35" textLength="50.00" lengthAdjust="spacingAndGlyphs">68.9%</text>
</g>
<g fill="none" stroke="#333333" stroke-width="2">
<polyline points="1008,264 1008,278.5"/>
<polyline points="1088,300.5 1064.4,300.5 1064.4,322 1053,322"/>
<polyline points="1088,331.8 1069.4,331.8 1069.4,339.8 1052.7,339.8"/>
<polyline points="1088,362.7 1049.3,362.7"/>
<polyline points="1088,393 1064.2,393 1064.2,371.9 1037.3,371.9"/>
<polyline points="1088,424.2 1009,424.2"/>
<polyline points="1088,457.4 1047,457.4 1047,448.5 994,448.5"/>
<polyline points="1088,489 1048,489 1048,464.3 997,464.3"/>
<polyline points="1088,521.5 977,521.5 977,455 966,455"/>
</g>
<g fill="none" stroke="#6b6b6b" stroke-width="2">
<line x1="914.5" y1="273.6" x2="954" y2="308.3"/>
<line x1="871.3" y1="324" x2="883.4" y2="458.5" stroke="#9a8a9e"/>
</g>
<rect x="1088" y="286.4" width="101" height="27.5" rx="6" fill="#702673" stroke="#f6d2ee" stroke-width="1.2"/>
<text x="1101.50" y="306.35" font-size="16.50" font-weight="normal" fill="#f4d8f0" text-anchor="start" stroke="#f4d8f0" stroke-width="0.20" textLength="22.00" lengthAdjust="spacingAndGlyphs">NH</text>
<text x="1128.60" y="306.35" font-size="16.50" font-weight="bold" fill="#f4d8f0" text-anchor="start" stroke="#f4d8f0" stroke-width="0.35" textLength="48.00" lengthAdjust="spacingAndGlyphs">74.3%</text>
<rect x="1088" y="318.5" width="101" height="27.5" rx="6" fill="#c94c97" stroke="#f6d2ee" stroke-width="1.2"/>
<text x="1101.50" y="338.45" font-size="16.50" font-weight="normal" fill="#f4d8f0" text-anchor="start" stroke="#f4d8f0" stroke-width="0.20" textLength="23.00" lengthAdjust="spacingAndGlyphs">MA</text>
<text x="1128.20" y="338.45" font-size="16.50" font-weight="bold" fill="#f4d8f0" text-anchor="start" stroke="#f4d8f0" stroke-width="0.35" textLength="47.50" lengthAdjust="spacingAndGlyphs">61.9%</text>
<rect x="1088" y="349.8" width="101" height="27.5" rx="6" fill="#b7428e" stroke="#f6d2ee" stroke-width="1.2"/>
<text x="1106.00" y="369.75" font-size="16.50" font-weight="normal" fill="#f4d8f0" text-anchor="start" stroke="#f4d8f0" stroke-width="0.20" textLength="13.50" lengthAdjust="spacingAndGlyphs">RI</text>
<text x="1124.60" y="369.75" font-size="16.50" font-weight="bold" fill="#f4d8f0" text-anchor="start" stroke="#f4d8f0" stroke-width="0.35" textLength="47.00" lengthAdjust="spacingAndGlyphs">64.4%</text>
<rect x="1088" y="381.4" width="101" height="27.5" rx="6" fill="#9a3785" stroke="#f6d2ee" stroke-width="1.2"/>
<text x="1103.50" y="401.35" font-size="16.50" font-weight="normal" fill="#f4d8f0" text-anchor="start" stroke="#f4d8f0" stroke-width="0.20" textLength="17.00" lengthAdjust="spacingAndGlyphs">CT</text>
<text x="1126.20" y="401.35" font-size="16.50" font-weight="bold" fill="#f4d8f0" text-anchor="start" stroke="#f4d8f0" stroke-width="0.35" textLength="47.50" lengthAdjust="spacingAndGlyphs">68.2%</text>
<rect x="1088" y="412.8" width="101" height="27.5" rx="6" fill="#c54894" stroke="#f6d2ee" stroke-width="1.2"/>
<text x="1103.30" y="432.75" font-size="16.50" font-weight="normal" fill="#f4d8f0" text-anchor="start" stroke="#f4d8f0" stroke-width="0.20" textLength="17.70" lengthAdjust="spacingAndGlyphs">NJ</text>
<text x="1126.30" y="432.75" font-size="16.50" font-weight="bold" fill="#f4d8f0" text-anchor="start" stroke="#f4d8f0" stroke-width="0.35" textLength="48.00" lengthAdjust="spacingAndGlyphs">62.7%</text>
<rect x="1088" y="443.7" width="101" height="27.5" rx="6" fill="#69226f" stroke="#f6d2ee" stroke-width="1.2"/>
<text x="1102.50" y="463.65" font-size="16.50" font-weight="normal" fill="#f4d8f0" text-anchor="start" stroke="#f4d8f0" stroke-width="0.20" textLength="19.50" lengthAdjust="spacingAndGlyphs">DE</text>
<text x="1126.90" y="463.65" font-size="16.50" font-weight="bold" fill="#f4d8f0" text-anchor="start" stroke="#f4d8f0" stroke-width="0.35" textLength="48.20" lengthAdjust="spacingAndGlyphs">75.7%</text>
<rect x="1088" y="475.6" width="101" height="27.5" rx="6" fill="#852e7c" stroke="#f6d2ee" stroke-width="1.2"/>
<text x="1101.40" y="495.55" font-size="16.50" font-weight="normal" fill="#f4d8f0" text-anchor="start" stroke="#f4d8f0" stroke-width="0.20" textLength="22.80" lengthAdjust="spacingAndGlyphs">MD</text>
<text x="1129.00" y="495.55" font-size="16.50" font-weight="bold" fill="#f4d8f0" text-anchor="start" stroke="#f4d8f0" stroke-width="0.35" textLength="48.00" lengthAdjust="spacingAndGlyphs">71.6%</text>
<rect x="1088" y="507.6" width="101" height="27.5" rx="6" fill="#e9e1f1" stroke="#f6d2ee" stroke-width="1.2"/>
<text x="1102.50" y="527.55" font-size="16.50" font-weight="normal" fill="#3b2c48" text-anchor="start" stroke="#3b2c48" stroke-width="0.20" textLength="19.50" lengthAdjust="spacingAndGlyphs">DC</text>
<text x="1126.90" y="527.55" font-size="16.50" font-weight="bold" fill="#3b2c48" text-anchor="start" stroke="#3b2c48" stroke-width="0.35" textLength="47.40" lengthAdjust="spacingAndGlyphs">40.2%</text>
<rect x="941.3" y="236.4" width="86" height="28.2" rx="6" fill="#762879" stroke="#f6d2ee" stroke-width="1.2"/>
<text x="949.20" y="256.75" font-size="16.50" font-weight="normal" fill="#f4d8f0" text-anchor="start" stroke="#f4d8f0" stroke-width="0.20" textLength="17.00" lengthAdjust="spacingAndGlyphs">VT</text>
<text x="971.80" y="256.75" font-size="16.50" font-weight="bold" fill="#f4d8f0" text-anchor="start" stroke="#f4d8f0" stroke-width="0.35" textLength="48.70" lengthAdjust="spacingAndGlyphs">73.7%</text>
<rect x="818.4" y="253.5" width="105.3" height="19.3" fill="#f6f3a6"/>
<text x="822.90" y="267.51" font-size="16.00" font-weight="bold" fill="#3b3a26" text-anchor="start" stroke="#3b3a26" stroke-width="0.5" textLength="97.50" lengthAdjust="spacingAndGlyphs">Lowest State</text>
<rect x="818.75" y="303.75" width="107.5" height="20" fill="#f6f3a6"/>
<text x="821.50" y="319.01" font-size="16.00" font-weight="bold" fill="#3b3a26" text-anchor="start" stroke="#3b3a26" stroke-width="0.5" textLength="101.00" lengthAdjust="spacingAndGlyphs">Highest State</text>
</svg></body></html>
